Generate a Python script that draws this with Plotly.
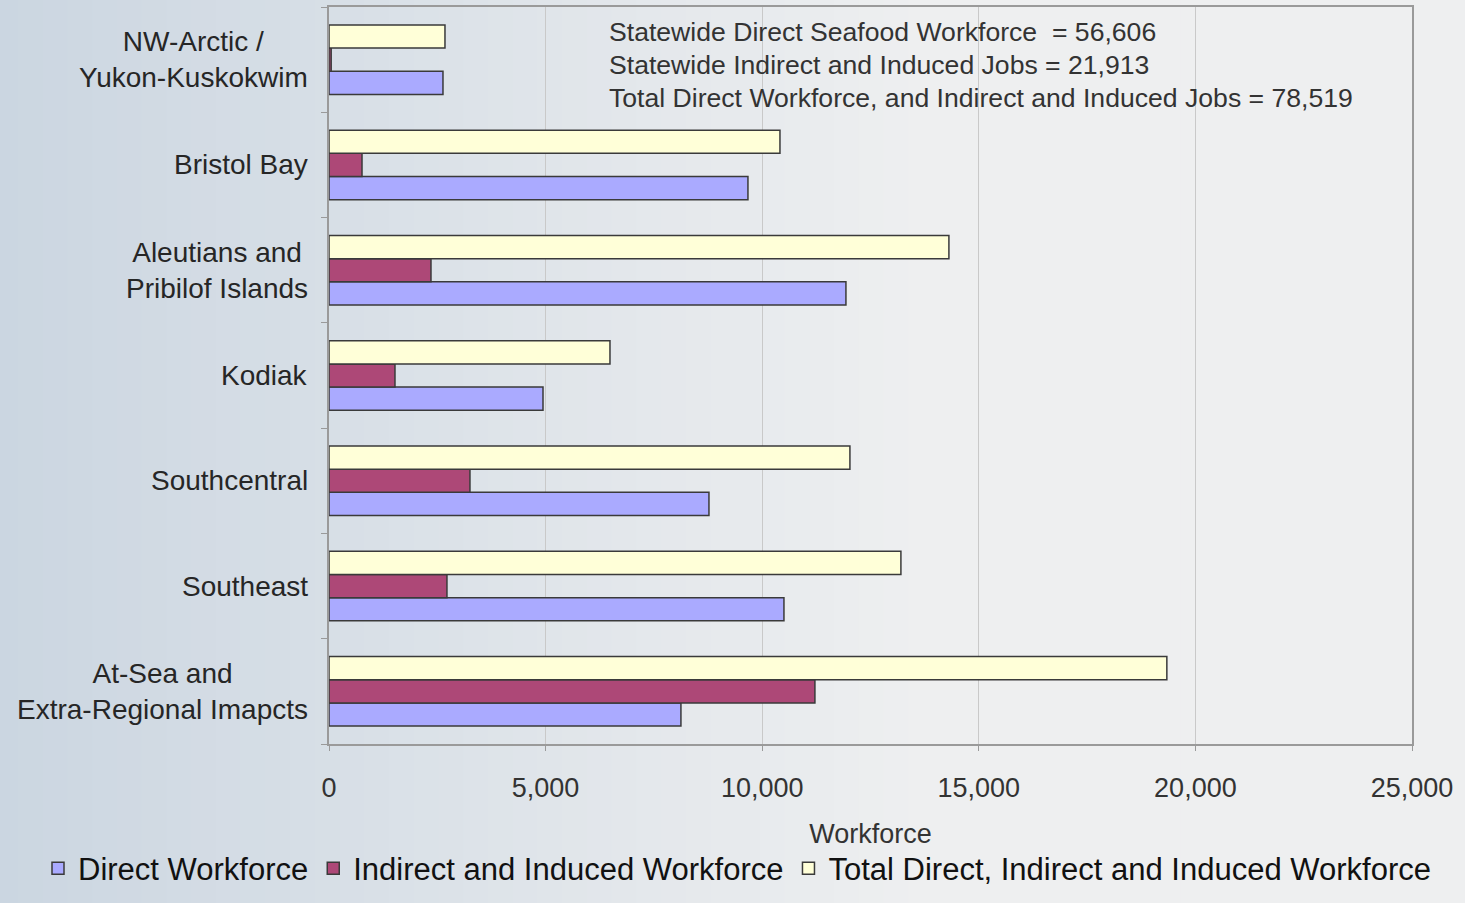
import plotly.graph_objects as go

# Categories listed bottom-to-top
regions = [
    "At-Sea and<br>Extra-Regional Imapcts",
    "Southeast",
    "Southcentral",
    "Kodiak",
    "Aleutians and<br>Pribilof Islands",
    "Bristol Bay",
    "NW-Arctic /<br>Yukon-Kuskokwim",
]
direct = [8124, 10502, 8771, 4940, 11933, 9671, 2631]
indirect = [11217, 2723, 3254, 1523, 2354, 762, 50]
total = [19341, 13202, 12025, 6486, 14310, 10410, 2677]

series_names = [
    "Direct Workforce",
    "Indirect and Induced Workforce",
    "Total Direct, Indirect and Induced Workforce",
]
colors = ["#aaaaff", "#ad4877", "#ffffd8"]
x_ticks = [0, 5000, 10000, 15000, 20000, 25000]
x_ticklabels = ["0", "5,000", "10,000", "15,000", "20,000", "25,000"]
notes = [
    "Statewide Direct Seafood Workforce  = 56,606",
    "Statewide Indirect and Induced Jobs = 21,913",
    "Total Direct Workforce, and Indirect and Induced Jobs = 78,519",
]

FONT = "Liberation Sans, Arial, sans-serif"
fig = go.Figure()
for name, vals, col in zip(series_names, [direct, indirect, total], colors):
    fig.add_trace(go.Bar(
        y=regions, x=vals, name=name, orientation="h",
        marker=dict(color=col, line=dict(color="#3a3a3a", width=1.5)),
    ))

# background gradient strips (left bluish-gray to right light gray)
shapes = []
n = 60
c0 = (203, 214, 225)
c1 = (238, 239, 240)
for i in range(n):
    t = i / (n - 1)
    t2 = min(1.0, t * 1.6)
    c = tuple(int(round(c0[k] + (c1[k] - c0[k]) * t2)) for k in range(3))
    shapes.append(dict(type="rect", xref="paper", yref="paper", layer="below",
                       x0=-0.31 + i * (1.37 / n), x1=-0.31 + (i + 1.05) * (1.37 / n),
                       y0=-0.3, y1=1.02, line=dict(width=0),
                       fillcolor="rgb(%d,%d,%d)" % c))

annotations = []
for r in regions:
    annotations.append(dict(
        x=0, xref="paper", y=r, yref="y", xanchor="right", yanchor="middle",
        xshift=-19, text=r, align="center", showarrow=False,
        font=dict(family=FONT, size=28, color="#262626"),
    ))
for i, t in enumerate(notes):
    annotations.append(dict(
        x=(607 - 329) / 1083, xref="paper", y=1 - (32 + 33 * i - 7) / 740, yref="paper",
        xanchor="left", yanchor="middle", text=t, showarrow=False,
        font=dict(family=FONT, size=26.6, color="#333333"),
    ))

fig.update_layout(
    width=1465, height=903,
    margin=dict(l=329, r=53, t=7, b=156),
    paper_bgcolor="#e6e9ec",
    plot_bgcolor="rgba(0,0,0,0)",
    barmode="group",
    bargap=0.34,
    bargroupgap=0,
    shapes=shapes,
    annotations=annotations,
    font=dict(family=FONT, color="#262626"),
    legend=dict(
        orientation="h", x=(38 - 329) / 1083, xanchor="left", xref="paper",
        y=-(872 - 747) / 740, yanchor="middle", yref="paper",
        font=dict(family=FONT, size=31, color="#111111"),
        traceorder="normal", itemwidth=30, bgcolor="rgba(0,0,0,0)",
    ),
    xaxis=dict(
        range=[0, 25000], tickvals=x_ticks, ticktext=x_ticklabels,
        showgrid=True, gridcolor="#c9c9c9", gridwidth=1,
        showline=True, linecolor="#9a9a9a", linewidth=1.5, mirror=True,
        ticks="outside", ticklen=5, tickcolor="#9a9a9a",
        ticklabelstandoff=14, automargin=False,
        tickfont=dict(family=FONT, size=27, color="#333333"),
        title=dict(text="Workforce", font=dict(family=FONT, size=27, color="#333333"), standoff=22),
        zeroline=False,
    ),
    yaxis=dict(
        categoryorder="array", categoryarray=regions,
        showticklabels=False, showgrid=False, automargin=False,
        showline=True, linecolor="#9a9a9a", linewidth=1.5, mirror=True,
        ticks="outside", ticklen=6, tickcolor="#9a9a9a", tickson="boundaries",
    ),
)

fig.write_html("out.html")
